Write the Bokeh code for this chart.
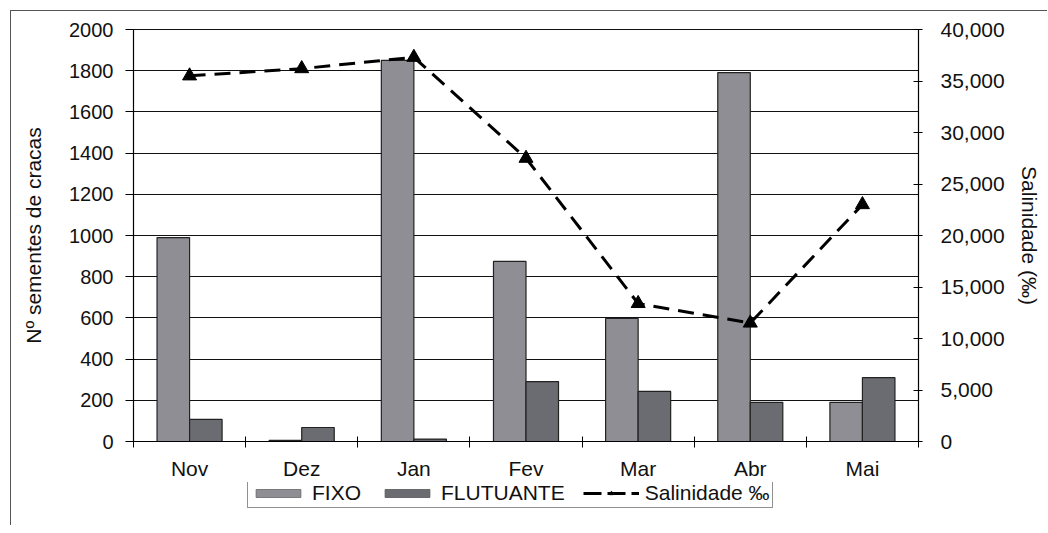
import numpy as np
from bokeh.plotting import figure
from bokeh.layouts import column
from bokeh.models import (Range1d, LinearAxis, FixedTicker, NumeralTickFormatter,
                          Legend, LegendItem, ColumnDataSource)
from bokeh.embed import file_html
from bokeh.resources import INLINE

months = ["Nov", "Dez", "Jan", "Fev", "Mar", "Abr", "Mai"]
fixo = [990, 5, 1850, 874, 597, 1791, 190]
flutuante = [107, 68, 12, 291, 243, 190, 310]
salinidade = [35500, 36200, 37300, 27500, 13400, 11500, 23000]
left_ticks = [0, 200, 400, 600, 800, 1000, 1200, 1400, 1600, 1800, 2000]
right_ticks = [0, 5000, 10000, 15000, 20000, 25000, 30000, 35000, 40000]

FONT = "Liberation Sans"
TXT = "#111111"
C_FIXO = "#8e8e94"
C_FLUT = "#6b6b72"
n = len(months)
centers = np.arange(n) + 0.5
bw = 0.29

p = figure(width=1036, height=471, output_backend="svg", toolbar_location=None,
           x_range=Range1d(0, n), y_range=Range1d(0, 2000),
           min_border_left=122, min_border_right=129, min_border_top=18,
           min_border_bottom=41)
p.extra_y_ranges = {"sal": Range1d(0, 40000)}

src = ColumnDataSource(dict(xf=centers - bw / 2, xl=centers + bw / 2, c=centers,
                            fixo=fixo, flut=flutuante, sal=salinidade))

bar_kw = dict(width=bw, source=src, line_color="#222222", line_width=1.2)
p.vbar(x="xf", top="fixo", fill_color=C_FIXO, **bar_kw)
p.vbar(x="xl", top="flut", fill_color=C_FLUT, **bar_kw)
p.line(x="c", y="sal", source=src, y_range_name="sal", line_color="black",
       line_width=3, line_dash="16 9")
p.scatter(x="c", y="sal", source=src, y_range_name="sal", marker="triangle",
          size=14, fill_color="black", line_color="black")

# grid / frame
p.xgrid.visible = False
p.ygrid.ticker = FixedTicker(ticks=left_ticks)
p.ygrid.grid_line_color = "#111111"
p.ygrid.grid_line_width = 1.2
p.outline_line_color = "#111111"
p.outline_line_width = 1.2

# x axis: labels at category centres, ticks at category boundaries
xa = p.xaxis[0]
xa.ticker = FixedTicker(ticks=list(centers), minor_ticks=list(range(n + 1)))
xa.major_label_overrides = {float(c): m for c, m in zip(centers, months)}
xa.major_tick_in = 0
xa.major_tick_out = 0
xa.minor_tick_in = 5
xa.minor_tick_out = 6
xa.minor_tick_line_color = "black"
xa.axis_line_color = "black"
xa.major_label_text_font = FONT
xa.major_label_text_font_size = "21px"
xa.major_label_text_color = TXT
xa.major_label_standoff = 9

# left axis
ya = p.yaxis[0]
ya.ticker = FixedTicker(ticks=left_ticks)
ya.major_tick_in = 0
ya.major_tick_out = 8
ya.minor_tick_line_color = None
ya.major_label_text_font = FONT
ya.major_label_text_font_size = "20px"
ya.major_label_text_color = TXT
ya.major_label_standoff = 12
ya.axis_label = "Nº sementes de cracas"
ya.axis_label_text_font = FONT
ya.axis_label_text_font_size = "21px"
ya.axis_label_text_font_style = "normal"
ya.axis_label_text_color = TXT
ya.axis_label_standoff = 21

# right axis
ra = LinearAxis(y_range_name="sal", ticker=FixedTicker(ticks=right_ticks),
                formatter=NumeralTickFormatter(format="0,0"))
ra.major_tick_in = 5
ra.major_tick_out = 4
ra.minor_tick_line_color = None
ra.major_label_text_font = FONT
ra.major_label_text_font_size = "21px"
ra.major_label_text_color = TXT
ra.major_label_standoff = 18
ra.axis_label = "Salinidade (‰)"
ra.axis_label_text_font = FONT
ra.axis_label_text_font_size = "21px"
ra.axis_label_text_font_style = "normal"
ra.axis_label_text_color = TXT
ra.axis_label_standoff = 10
p.add_layout(ra, "right")

# legend strip below the chart (hidden renderers of the same data; only the key shows)
lg = figure(width=1036, height=43, output_backend="svg", toolbar_location=None,
            x_range=Range1d(0, n), y_range=Range1d(0, 2000),
            x_axis_type=None, y_axis_type=None,
            min_border_left=0, min_border_right=0, min_border_top=0,
            min_border_bottom=0)
lg.grid.visible = False
lg.outline_line_color = None
e1 = lg.vbar(x="xf", top="fixo", width=bw, source=src, fill_color=C_FIXO,
             line_color="#666666", line_width=0.8, visible=False)
e2 = lg.vbar(x="xl", top="flut", width=bw, source=src, fill_color=C_FLUT,
             line_color="#555555", line_width=0.8, visible=False)
e3 = lg.line(x="c", y="sal", source=src, line_color="black", line_width=3,
             line_dash="18 6", visible=False)
e4 = lg.scatter(x="c", y="sal", source=src, marker="triangle", size=12,
                fill_color="black", line_color="black", visible=False)

legend = Legend(items=[
    LegendItem(label="FIXO", renderers=[e1]),
    LegendItem(label="FLUTUANTE", renderers=[e2]),
    LegendItem(label="Salinidade ‰", renderers=[e3, e4]),
], orientation="horizontal", location=(114, 17))
legend.label_text_font = FONT
legend.label_text_font_size = "21px"
legend.label_text_color = TXT
legend.label_height = 16
legend.glyph_width = 56
legend.glyph_height = 10
legend.label_standoff = 6
legend.spacing = 18
legend.padding = 2
legend.margin = 0
legend.border_line_color = "#222222"
legend.border_line_width = 1
legend.background_fill_alpha = 1
lg.add_layout(legend, "center")

layout = column(p, lg, spacing=0,
                styles={"margin-left": "10px", "margin-top": "10px",
                        "border-left": "1px solid #555555",
                        "border-top": "1px solid #555555"})

open("out.html", "w").write(file_html(layout, INLINE))
